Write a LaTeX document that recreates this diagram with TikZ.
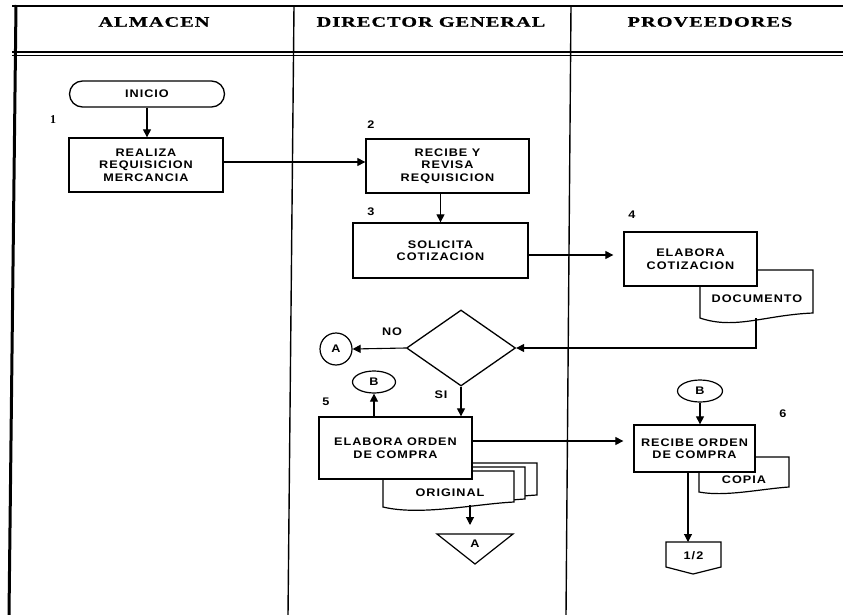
\documentclass[tikz,border=0pt]{standalone}
\usepackage{fontspec}
\usetikzlibrary{arrows.meta,shapes.geometric}
\newfontfamily\hfont{Liberation Serif}[FakeStretch=1.4,LetterSpace=7,FakeBold=0.6]
\newfontfamily\nfont{Liberation Sans}[FakeStretch=1.15,LetterSpace=9]
\newfontfamily\sfont{Liberation Serif}
\newcommand\nodef{\nfont\bfseries\fontsize{11}{12.5}\selectfont}
\newcommand\hdrf{\hfont\bfseries\fontsize{14.5}{16}\selectfont}
\begin{document}
\begin{tikzpicture}[x=1pt,y=-1pt,
  proc/.style={draw,line width=1.3pt,fill=white,inner sep=0pt,align=center,font=\nodef},
  term/.style={proc,rounded corners=13pt},
  conn/.style={draw,line width=1.1pt,-{Triangle[length=8pt,width=8pt]}},
  docst/.style={draw,line width=1.2pt,fill=white},
  lab/.style={inner sep=0pt,font=\nodef},
  hdr/.style={inner sep=0pt,font=\hdrf},
  frame/.style={line width=1.4pt},
  conc/.style={draw,line width=1.2pt,inner sep=0pt,font=\nodef,fill=white}]
\useasboundingbox (0,0) rectangle (843,615);
\fill[white] (0,0) rectangle (843,615);
% frame
\draw[frame,line width=2pt] (12,6) -- (843,6);
\draw[frame,line width=2pt] (12,52) -- (843,52);
\draw[frame,line width=0.9pt] (12,55.5) -- (843,55.5);
\draw[line width=3pt] (16,5) -- (9,615);
\draw[frame] (294,6) -- (288,615);
\draw[frame] (571,6) -- (566,615);
% headers
\node[hdr] (h1) at (154,22) {ALMACEN};
\node[hdr] (h2) at (431,22) {DIRECTOR GENERAL};
\node[hdr] (h3) at (710,22) {PROVEEDORES};
% documents (behind boxes)
\draw[docst] (700,270) -- (813,270) -- (813,313) .. controls (765,315) and (735,330) .. (700,318) -- cycle;
\node[lab] (doctxt) at (757,299) {DOCUMENTO};
\draw[docst] (400,463) -- (537,463) -- (537,495) .. controls (500,497) and (470,505) .. (400,500) -- cycle;
\draw[docst] (392,467) -- (525,467) -- (525,499) .. controls (490,501) and (460,509) .. (392,504) -- cycle;
\draw[docst] (383,471) -- (514,471) -- (514,502) .. controls (475,504) and (420,516) .. (383,507) -- cycle;
\node[lab] (origtxt) at (450,493) {ORIGINAL};
\draw[docst] (699,457) -- (789,457) -- (789,487) .. controls (760,489) and (725,497) .. (699,492) -- cycle;
\node[lab] (copiatxt) at (744,480) {COPIA};
% process boxes
\node[term,minimum width=155pt,minimum height=26pt] (inicio) at (147,94) {INICIO};
\node[proc,minimum width=154pt,minimum height=54pt] (realiza) at (146,165) {REALIZA\\REQUISICION\\MERCANCIA};
\node[proc,minimum width=163pt,minimum height=54pt] (recibe) at (447.5,166) {RECIBE Y\\REVISA\\REQUISICION};
\node[proc,minimum width=175pt,minimum height=55pt] (solicita) at (440.5,250.5) {SOLICITA\\COTIZACION};
\node[proc,minimum width=133pt,minimum height=54pt] (elabcot) at (690.5,259) {ELABORA\\COTIZACION};
\node[draw,diamond,line width=1.3pt,fill=white,minimum width=109pt,minimum height=76pt,inner sep=0pt] (dec) at (461,348) {};
\node[conc,circle,minimum size=32pt] (ca) at (336,349) {A};
\node[conc,ellipse,minimum width=43pt,minimum height=22pt] (b1) at (374,382) {B};
\node[proc,minimum width=153pt,minimum height=62pt] (elaborden) at (395.5,448) {ELABORA ORDEN\\DE COMPRA};
\node[conc,ellipse,minimum width=45pt,minimum height=22pt] (b2) at (700,391) {B};
\node[proc,minimum width=121pt,minimum height=47pt] (recorden) at (694.5,448.5) {RECIBE ORDEN\\DE COMPRA};
% merge triangle and off-page connector
\draw[docst] (437,534) -- (513,534) -- (475,564) -- cycle;
\node[lab] (tra) at (475,544) {A};
\draw[docst] (666,542) -- (721,542) -- (721,567) -- (693,574) -- (666,567) -- cycle;
\node[lab] (pg) at (693.5,556) {1/2};
% labels
\node[lab,font=\sfont\bfseries\fontsize{12}{13}\selectfont] (n1) at (53,120) {1};
\node[lab] (n2) at (371,125) {2};
\node[lab] (n3) at (371,212) {3};
\node[lab] (n4) at (632,215) {4};
\node[lab] (n5) at (326,402) {5};
\node[lab] (n6) at (783,414) {6};
\node[lab] (no) at (392,332) {NO};
\node[lab] (si) at (441,395) {SI};
% coordinates
\coordinate (docb) at (756,318);
\coordinate (origb) at (470,505);
\coordinate (trtop) at (470,534);
\coordinate (pgtop) at (688,542);
% connectors
\draw[conn] (inicio.south) -- (inicio.south |- realiza.north);
\draw[conn] ([yshift=3pt]realiza.east) -- ([yshift=3pt]realiza.east -| recibe.west);
\draw[conn] (solicita.north |- recibe.south) -- (solicita.north);
\draw[conn,shorten >=10pt] ([yshift=-4.5pt]solicita.east) -- ([yshift=-4.5pt]solicita.east -| elabcot.west);
\draw[conn] (docb) |- (dec.east);
\draw[conn] (dec.west) -- (ca.east);
\draw[conn] (dec.south) -- (dec.south |- elaborden.north);
\draw[conn] (b1.south |- elaborden.north) -- (b1.south);
\draw[conn,shorten >=10pt] ([yshift=7pt]elaborden.east) -- ([yshift=7pt]elaborden.east -| recorden.west);
\draw[conn] (b2.south) -- (b2.south |- recorden.north);
\draw[conn] (pgtop |- recorden.south) -- (pgtop);
\draw[conn,shorten >=9pt] (origb) -- (trtop);
\end{tikzpicture}
\end{document}
